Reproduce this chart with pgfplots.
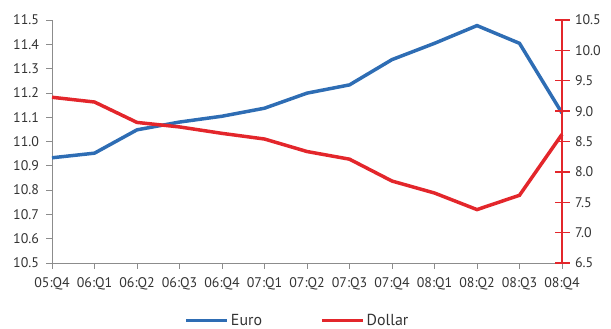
\documentclass[border=0pt]{standalone}
\usepackage{fontspec}
\setmainfont{PT Sans}
\usepackage{pgfplots}
\pgfplotsset{compat=1.18}
\definecolor{eblue}{HTML}{2E6DB4}
\definecolor{dred}{HTML}{E3262B}
\definecolor{axgray}{HTML}{8C8C8C}
\definecolor{txt}{HTML}{333333}
\begin{document}
\begin{tikzpicture}
\useasboundingbox (-52bp,-66bp) rectangle (559bp,263bp);
\begin{axis}[
  scale only axis, width=510bp, height=243bp,
  at={(0,0)}, anchor=south west,
  xmin=0, xmax=12, ymin=10.5, ymax=11.5,
  axis x line*=bottom, axis y line*=left,
  axis line style={-, axgray, line width=0.8pt},
  tick style={axgray, line width=0.8pt},
  major tick length=5.5bp, tick align=outside,
  xtick={0,...,12},
  xticklabels={05:Q4,06:Q1,06:Q2,06:Q3,06:Q4,07:Q1,07:Q2,07:Q3,07:Q4,08:Q1,08:Q2,08:Q3,08:Q4},
  ytick={10.5,10.6,10.7,10.8,10.9,11.0,11.1,11.2,11.3,11.4,11.5},
  yticklabel style={xshift=-4bp, /pgf/number format/fixed, /pgf/number format/fixed zerofill, /pgf/number format/precision=1, /pgf/number format/assume math mode=true},
  tick label style={font=\fontsize{14}{16}\selectfont, text=txt},
  xticklabel style={yshift=-6bp},
  clip=false,
]
\addplot[eblue, line width=3.5pt, line join=miter] coordinates {
(0,10.933) (1,10.952) (2,11.048) (3,11.080) (4,11.104) (5,11.137) (6,11.199)
(7,11.233) (8,11.337) (9,11.404) (10,11.477) (11,11.404) (12,11.117)};
\end{axis}
\begin{axis}[
  scale only axis, width=510bp, height=243bp,
  at={(0,0)}, anchor=south west,
  xmin=0, xmax=12, ymin=6.5, ymax=10.5,
  axis x line=none, axis y line*=right,
  axis line style={-, dred, line width=1.5pt},
  tick style={dred, line width=1.5pt},
  major tick length=15bp, tick align=center,
  ytick={6.5,7.0,7.5,8.0,8.5,9.0,9.5,10.0,10.5},
  yticklabel style={xshift=2bp, /pgf/number format/fixed, /pgf/number format/fixed zerofill, /pgf/number format/precision=1, /pgf/number format/assume math mode=true},
  tick label style={font=\fontsize{14}{16}\selectfont, text=txt},
  clip=false,
  legend style={at={(0.481,-0.237)}, anchor=center, draw=none, fill=none,
    legend columns=2, font=\fontsize{16}{18}\selectfont, text=txt,
    /tikz/every even column/.append style={column sep=56bp}},
  legend image code/.code={\draw[#1, line width=3.7pt] (0bp,0bp) -- (41bp,0bp);},
]
\addlegendimage{eblue}
\addlegendentry{Euro}
\addplot[dred, line width=3.5pt, line join=miter] coordinates {
(0,9.228) (1,9.150) (2,8.814) (3,8.740) (4,8.634) (5,8.541) (6,8.335)
(7,8.209) (8,7.849) (9,7.652) (10,7.379) (11,7.615) (12,8.618)};
\addlegendentry{Dollar}
\end{axis}
\end{tikzpicture}
\end{document}
